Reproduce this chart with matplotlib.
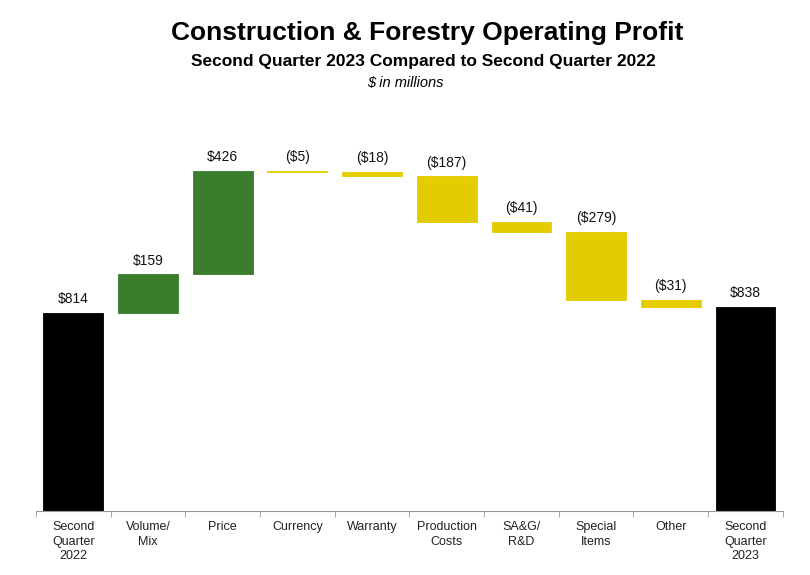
import numpy as np
import matplotlib.pyplot as plt

plt.rcParams['font.family'] = ['Liberation Sans', 'DejaVu Sans']

# Data ($ in millions)
categories = ['Second\nQuarter\n2022', 'Volume/\nMix', 'Price', 'Currency', 'Warranty',
              'Production\nCosts', 'SA&G/\nR&D', 'Special\nItems', 'Other',
              'Second\nQuarter\n2023']
start_value = 814
changes = [159, 426, -5, -18, -187, -41, -279, -31]
end_value = 838
labels = ['$814', '$159', '$426', '($5)', '($18)', '($187)', '($41)', '($279)', '($31)', '$838']

GREEN = '#3A7D2C'
YELLOW = '#E3CC00'

# Build waterfall bottoms/heights
bottoms = [0]
heights = [start_value]
colors = ['black']
level = start_value
for c in changes:
    if c >= 0:
        bottoms.append(level)
        heights.append(c)
        colors.append(GREEN)
    else:
        bottoms.append(level + c)
        heights.append(-c)
        colors.append(YELLOW)
    level += c
bottoms.append(0)
heights.append(end_value)
colors.append('black')

x = np.arange(len(categories))

fig = plt.figure(figsize=(8.1, 5.75), dpi=100)
ax = fig.add_axes([0.0444, 0.1113, 0.922, 0.6765])

ax.bar(x, heights, bottom=bottoms, width=0.8, color=colors, edgecolor=colors, linewidth=0.6)

for xi, b, h, lab in zip(x, bottoms, heights, labels):
    ax.annotate(lab, (xi, b + h), xytext=(0, 5), textcoords='offset points',
                ha='center', va='bottom', fontsize=10, color='#111111')

ax.set_xlim(-0.5, len(categories) - 0.5)
ax.set_ylim(0, 1600)

for s in ['top', 'right', 'left']:
    ax.spines[s].set_visible(False)
ax.spines['bottom'].set_color('#999999')
ax.set_yticks([])

ax.set_xticks(x)
ax.set_xticklabels(categories, fontsize=9, color='#222222', linespacing=1.25)
ax.tick_params(axis='x', which='major', length=0, pad=7.5)
ax.set_xticks(np.arange(len(categories) + 1) - 0.5, minor=True)
ax.tick_params(axis='x', which='minor', length=4, color='#999999', direction='out')

fig.text(0.527, 0.942, 'Construction & Forestry Operating Profit', ha='center', va='center',
         fontsize=19, fontweight='bold')
fig.text(0.523, 0.893, 'Second Quarter 2023 Compared to Second Quarter 2022', ha='center',
         va='center', fontsize=12.5, fontweight='bold')
fig.text(0.501, 0.856, '$ in millions', ha='center', va='center', fontsize=10.5, style='italic')

fig.savefig('out.png', dpi=100)
